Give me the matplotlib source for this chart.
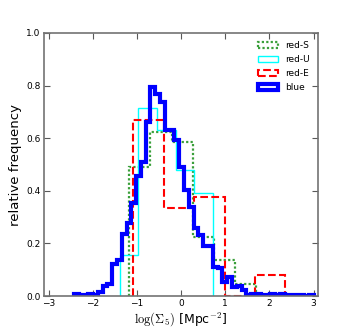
import numpy as np
import matplotlib
matplotlib.use("Agg")
import matplotlib.pyplot as plt

# bin edges and normalised heights
blue_edges = np.linspace(-2.43, 3.0, 51)
blue_vals = [0.006, 0.003, 0.003, 0.008, 0.003, 0.016, 0.038, 0.046, 0.12, 0.137,
             0.236, 0.277, 0.354, 0.456, 0.51, 0.66, 0.795, 0.768, 0.738, 0.631,
             0.631, 0.593, 0.49, 0.403, 0.34, 0.257, 0.232, 0.19, 0.19, 0.111,
             0.105, 0.054, 0.073, 0.035, 0.038, 0.023, 0.004, 0.008, 0.008, 0.004,
             0.004, 0.006, 0.004, 0.006, 0.004, 0.002, 0.002, 0.002, 0.0, 0.004]

redS_edges = np.linspace(-1.17, 1.69, 7)
redS_vals = [0.49, 0.625, 0.584, 0.223, 0.137, 0.046]

redU_edges = np.linspace(-1.39, 0.72, 6)
redU_vals = [0.156, 0.714, 0.631, 0.479, 0.393]

redE_edges = np.linspace(-1.08, 2.36, 6)
redE_vals = [0.669, 0.333, 0.375, 0.0, 0.08]

plt.rcParams['mathtext.fontset'] = 'cm'

fig = plt.figure(figsize=(3.53, 3.30), dpi=100)
ax = fig.add_axes([0.125, 0.103, 0.776, 0.797])

# draw each sample as a step histogram, blue last so it sits on top
ax.hist(redS_edges[:-1], bins=redS_edges, weights=redS_vals, histtype='step',
        color='#3a9f3a', linestyle=(0, (1, 1)), linewidth=1.6, label='red-S')
ax.hist(redU_edges[:-1], bins=redU_edges, weights=redU_vals, histtype='step',
        color='cyan', linewidth=1, label='red-U')
ax.hist(redE_edges[:-1], bins=redE_edges, weights=redE_vals, histtype='step',
        color='red', linestyle='--', linewidth=1.5, label='red-E')
ax.hist(blue_edges[:-1], bins=blue_edges, weights=blue_vals, histtype='step',
        color='blue', linewidth=3, label='blue')

ax.set_xlim(-3.1, 3.1)
ax.set_ylim(0, 1.0)
ax.set_xticks([-3, -2, -1, 0, 1, 2, 3])
ax.set_yticks([0.0, 0.2, 0.4, 0.6, 0.8, 1.0])
ax.tick_params(direction='in', top=True, right=True, labelsize=6.5,
               length=4, width=0.8, color='0.35', pad=2.5)
for s in ax.spines.values():
    s.set_color('0.45')
    s.set_linewidth(1.2)

ax.set_xlabel(r'$\log(\Sigma_5)$ [Mpc$^{-2}$]', fontsize=9, labelpad=1)
ax.set_ylabel('relative frequency', fontsize=9.5, labelpad=3)

ax.legend(loc='upper right', frameon=False, fontsize=6.5, handlelength=2.2,
          labelspacing=0.55, borderaxespad=0.5)

fig.savefig('out.png', dpi=100)
